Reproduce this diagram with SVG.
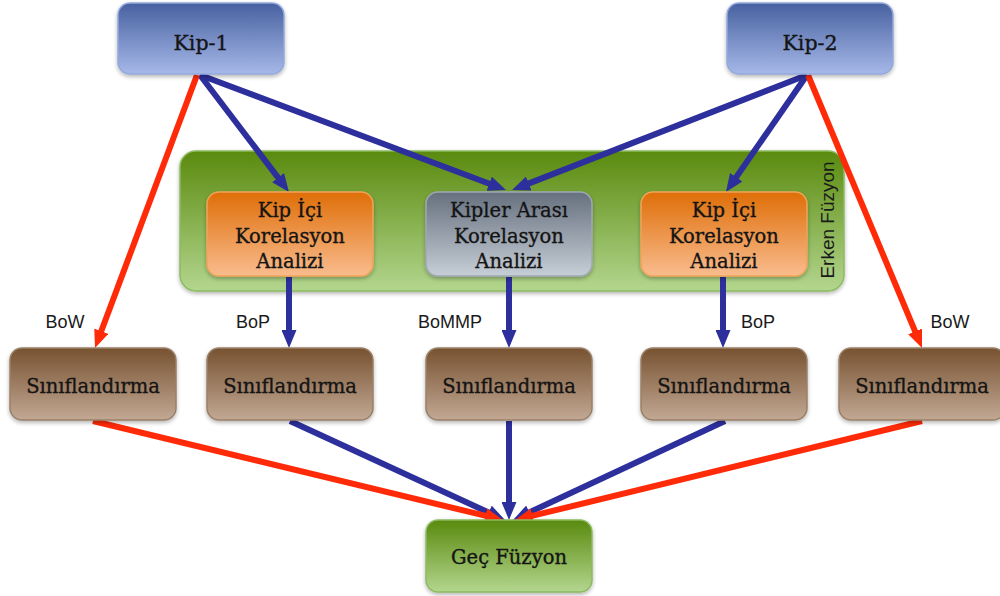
<svg xmlns="http://www.w3.org/2000/svg" width="1000" height="596" viewBox="0 0 1000 596">
  <style>
    .box { stroke-width: 1.5; filter: url(#shadow); }
    .lbl { font-family: "DejaVu Serif", "Liberation Serif", serif; font-size: 19.5px; fill: #141414; stroke: #141414; stroke-width: 0.35; text-anchor: middle; }
    .big { font-size: 20.5px; }
    .tag { font-family: "Liberation Sans", Arial, sans-serif; font-size: 18px; fill: #1a1a1a; text-anchor: middle; }
    .blue { stroke: #2d2f9c; stroke-width: 6; fill: none; marker-end: url(#headBlue); }
    .red { stroke: #ff2a08; stroke-width: 6; fill: none; marker-end: url(#headRed); }
  </style>
  <defs>
    <filter id="shadow" x="-10%" y="-10%" width="120%" height="130%">
      <feGaussianBlur in="SourceAlpha" stdDeviation="2"/>
      <feOffset dx="0" dy="2" result="b"/>
      <feComponentTransfer><feFuncA type="linear" slope="0.3"/></feComponentTransfer>
      <feMerge><feMergeNode/><feMergeNode in="SourceGraphic"/></feMerge>
    </filter>
    <linearGradient id="gBlue" x1="0" y1="0" x2="0" y2="1">
      <stop offset="0" stop-color="#4761a0"/><stop offset="1" stop-color="#a6b8e8"/>
    </linearGradient>
    <linearGradient id="gGreen" x1="0" y1="0" x2="0" y2="1">
      <stop offset="0" stop-color="#5a8a0e"/><stop offset="1" stop-color="#b3d68e"/>
    </linearGradient>
    <linearGradient id="gOrange" x1="0" y1="0" x2="0" y2="1">
      <stop offset="0" stop-color="#df6e08"/><stop offset="1" stop-color="#f9bc8e"/>
    </linearGradient>
    <linearGradient id="gGray" x1="0" y1="0" x2="0" y2="1">
      <stop offset="0" stop-color="#66707e"/><stop offset="1" stop-color="#c6ced6"/>
    </linearGradient>
    <linearGradient id="gBrown" x1="0" y1="0" x2="0" y2="1">
      <stop offset="0" stop-color="#775230"/><stop offset="1" stop-color="#c2a894"/>
    </linearGradient>
    <marker id="headBlue" markerUnits="userSpaceOnUse" markerWidth="18" markerHeight="15" refX="6" refY="7.5" orient="auto">
      <path d="M0,0 L18,7.5 L0,15 z" fill="#2d2f9c"/>
    </marker>
    <marker id="headRed" markerUnits="userSpaceOnUse" markerWidth="18" markerHeight="15" refX="6" refY="7.5" orient="auto">
      <path d="M0,0 L18,7.5 L0,15 z" fill="#ff2a08"/>
    </marker>
  </defs>

  <rect width="1000" height="596" fill="#ffffff"/>

  <!-- early fusion container -->
  <g id="erken-fuzyon">
    <rect class="box" x="180" y="151" width="664" height="140" rx="16" fill="url(#gGreen)" stroke="#8cba62"/>
    <text transform="translate(834,220) rotate(-90)" font-family="Liberation Sans, Arial, sans-serif" font-size="19" fill="#1a1a1a" text-anchor="middle">Erken Füzyon</text>
  </g>

  <!-- connectors -->
  <g id="connectors">
    <line class="blue" x1="200" y1="75" x2="281.7" y2="182.4"/>
    <line class="blue" x1="200" y1="75" x2="494.8" y2="185.8"/>
    <line class="blue" x1="807" y1="75" x2="523.2" y2="185.6"/>
    <line class="blue" x1="807" y1="75" x2="732.8" y2="182.1"/>
    <line class="blue" x1="289" y1="277" x2="289" y2="336"/>
    <line class="blue" x1="509" y1="277" x2="509" y2="336"/>
    <line class="blue" x1="723" y1="277" x2="723" y2="336"/>
    <line class="blue" x1="290" y1="421" x2="494.1" y2="515"/>
    <line class="blue" x1="509" y1="421" x2="509" y2="508"/>
    <line class="blue" x1="725" y1="421" x2="523.9" y2="514.9"/>
    <line class="red" x1="197" y1="75" x2="99.2" y2="336.8"/>
    <line class="red" x1="808" y1="75" x2="917.4" y2="336.9"/>
    <line class="red" x1="93" y1="421" x2="491.3" y2="517.2"/>
    <line class="red" x1="922" y1="421" x2="526.7" y2="517.2"/>
  </g>

  <!-- edge labels -->
  <g id="edge-labels">
    <text class="tag" x="65" y="328">BoW</text>
    <text class="tag" x="253" y="328">BoP</text>
    <text class="tag" x="450" y="328">BoMMP</text>
    <text class="tag" x="758" y="328">BoP</text>
    <text class="tag" x="950" y="328">BoW</text>
  </g>

  <g id="kip-1">
    <rect class="box" x="118" y="3" width="166" height="71" rx="12" fill="url(#gBlue)" stroke="#93a8dc"/>
    <text class="lbl big" x="201" y="50">Kip-1</text>
  </g>
  <g id="kip-2">
    <rect class="box" x="727" y="3" width="166" height="71" rx="12" fill="url(#gBlue)" stroke="#93a8dc"/>
    <text class="lbl big" x="810" y="50">Kip-2</text>
  </g>

  <g id="kip-ici-1">
    <rect class="box" x="207" y="192" width="166" height="84" rx="12" fill="url(#gOrange)" stroke="#f0a458"/>
    <text class="lbl" x="290" y="217">Kip İçi</text>
    <text class="lbl" x="290" y="243">Korelasyon</text>
    <text class="lbl" x="290" y="268">Analizi</text>
  </g>
  <g id="kipler-arasi">
    <rect class="box" x="426" y="192" width="166" height="84" rx="12" fill="url(#gGray)" stroke="#9ea8b4"/>
    <text class="lbl" x="509" y="217">Kipler Arası</text>
    <text class="lbl" x="509" y="243">Korelasyon</text>
    <text class="lbl" x="509" y="268">Analizi</text>
  </g>
  <g id="kip-ici-2">
    <rect class="box" x="641" y="192" width="166" height="84" rx="12" fill="url(#gOrange)" stroke="#f0a458"/>
    <text class="lbl" x="724" y="217">Kip İçi</text>
    <text class="lbl" x="724" y="243">Korelasyon</text>
    <text class="lbl" x="724" y="268">Analizi</text>
  </g>

  <g id="siniflandirma-1">
    <rect class="box" x="10" y="348" width="166" height="72" rx="12" fill="url(#gBrown)" stroke="#9a8068"/>
    <text class="lbl" x="93" y="393">Sınıflandırma</text>
  </g>
  <g id="siniflandirma-2">
    <rect class="box" x="207" y="348" width="166" height="72" rx="12" fill="url(#gBrown)" stroke="#9a8068"/>
    <text class="lbl" x="290" y="393">Sınıflandırma</text>
  </g>
  <g id="siniflandirma-3">
    <rect class="box" x="426" y="348" width="166" height="72" rx="12" fill="url(#gBrown)" stroke="#9a8068"/>
    <text class="lbl" x="509" y="393">Sınıflandırma</text>
  </g>
  <g id="siniflandirma-4">
    <rect class="box" x="641" y="348" width="166" height="72" rx="12" fill="url(#gBrown)" stroke="#9a8068"/>
    <text class="lbl" x="724" y="393">Sınıflandırma</text>
  </g>
  <g id="siniflandirma-5">
    <rect class="box" x="839" y="348" width="166" height="72" rx="12" fill="url(#gBrown)" stroke="#9a8068"/>
    <text class="lbl" x="922" y="393">Sınıflandırma</text>
  </g>

  <g id="gec-fuzyon">
    <rect class="box" x="426" y="520" width="166" height="72" rx="12" fill="url(#gGreen)" stroke="#8cba62"/>
    <text class="lbl" x="509" y="564">Geç Füzyon</text>
  </g>
</svg>
